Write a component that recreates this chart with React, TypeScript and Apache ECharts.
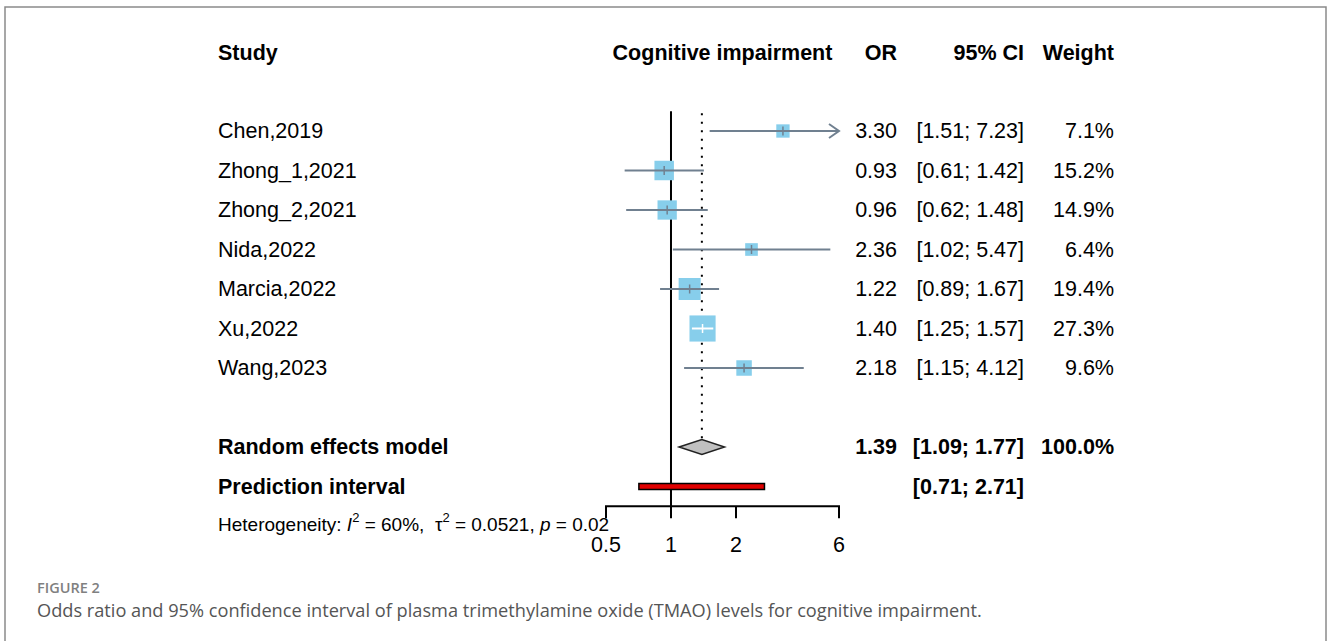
import React, { useEffect, useRef } from "react";
import * as echarts from "echarts";

// ---------- data ----------
const studies = ["Chen,2019", "Zhong_1,2021", "Zhong_2,2021", "Nida,2022", "Marcia,2022", "Xu,2022", "Wang,2023"];
const oddsRatios = [3.3, 0.93, 0.96, 2.36, 1.22, 1.4, 2.18];
const ciLower = [1.51, 0.61, 0.62, 1.02, 0.89, 1.25, 1.15];
const ciUpper = [7.23, 1.42, 1.48, 5.47, 1.67, 1.57, 4.12];
const weights = [7.1, 15.2, 14.9, 6.4, 19.4, 27.3, 9.6];

const summaryLabels = ["Random effects model", "Prediction interval"];
const pooledOR = 1.39;
const pooledLower = 1.09;
const pooledUpper = 1.77;
const pooledWeight = 100.0;
const predLower = 0.71;
const predUpper = 2.71;

const xTicks = [0.5, 1, 2, 6];
const xMin = 0.5;
const xMax = 6;

const headers = ["Study", "Cognitive impairment", "OR", "95% CI", "Weight"];
const heterogeneityI2 = 60;
const heterogeneityTau2 = 0.0521;
const heterogeneityP = 0.02;

const figureLabel = "FIGURE 2";
const caption =
  "Odds ratio and 95% confidence interval of plasma trimethylamine oxide (TMAO) levels for cognitive impairment.";

// ---------- layout ----------
const FONT = '"Liberation Sans", Arial, Helvetica, sans-serif';
const FS = 21.5;
const COL_STUDY = 218;
const COL_OR = 897;
const COL_CI = 1024;
const COL_W = 1114;
const ROW_RE = 8;
const ROW_PI = 9;
const ROW_AXIS = 9.5;
const LINE_COLOR = "#708090";
const SQUARE_COLOR = "#87CEEB";

const txt = (x: number, y: number, s: string, align: string, bold = false, size = FS) => ({
  type: "text",
  x,
  y,
  style: {
    text: s,
    fill: "#000",
    fontSize: size,
    fontFamily: FONT,
    fontWeight: bold ? "bold" : "normal",
    align,
    verticalAlign: "middle",
  },
});

const fmt = (v: number) => v.toFixed(2);

export default function App() {
  const ref = useRef<HTMLDivElement>(null);

  useEffect(() => {
    if (!ref.current) return;
    const chart = echarts.init(ref.current, null, { renderer: "svg" });

    const option: any = {
      animation: false,
      backgroundColor: "#fff",
      grid: { left: 606, top: 12.5, width: 233, height: 592.5, containLabel: false },
      xAxis: {
        type: "log",
        logBase: 2,
        min: xMin,
        max: xMax,
        show: false,
        axisLine: { show: false },
        axisTick: { show: false },
        axisLabel: { show: false },
        splitLine: { show: false },
      },
      yAxis: {
        type: "value",
        inverse: true,
        min: -3,
        max: 12,
        show: false,
        splitLine: { show: false },
      },
      series: [
        // reference lines
        {
          type: "custom",
          name: "reference",
          silent: true,
          data: [[1, 0]],
          renderItem: (_p: any, api: any) => {
            const x1 = api.coord([1, -0.5])[0];
            const yTop = api.coord([1, -0.5])[1];
            const yAxis = api.coord([1, ROW_AXIS])[1];
            const xp = api.coord([pooledOR, -0.45])[0];
            const yDotTop = api.coord([pooledOR, -0.45])[1];
            const yDiamond = api.coord([pooledOR, ROW_RE])[1] - 7.5;
            return {
              type: "group",
              children: [
                { type: "line", shape: { x1: xp, y1: yDotTop, x2: xp, y2: yDiamond }, style: { stroke: "#000", lineWidth: 2, lineDash: [2, 6.5] } },
                { type: "line", shape: { x1, y1: yTop, x2: x1, y2: yAxis }, style: { stroke: "#000", lineWidth: 2 } },
              ],
            };
          },
        },
        // axis
        {
          type: "custom",
          name: "axis",
          silent: true,
          data: xTicks.map((t) => [t, ROW_AXIS]),
          renderItem: (p: any, api: any) => {
            const t = xTicks[p.dataIndex];
            const [x, y] = api.coord([t, ROW_AXIS]);
            const children: any[] = [
              { type: "line", shape: { x1: x, y1: y, x2: x, y2: y + 12 }, style: { stroke: "#000", lineWidth: 2 } },
              txt(x, y + 39, String(t), "center"),
            ];
            if (p.dataIndex === 0) {
              const xe = api.coord([xMax, ROW_AXIS])[0];
              children.unshift({ type: "line", shape: { x1: x - 1, y1: y, x2: xe + 1, y2: y }, style: { stroke: "#000", lineWidth: 2 } });
            }
            return { type: "group", children };
          },
        },
        // studies
        {
          type: "custom",
          name: "studies",
          silent: true,
          data: studies.map((_, i) => [oddsRatios[i], i]),
          renderItem: (p: any, api: any) => {
            const i = p.dataIndex;
            const [xc, y] = api.coord([oddsRatios[i], i]);
            const xl = api.coord([ciLower[i], i])[0];
            const clipped = ciUpper[i] > xMax;
            const xh = api.coord([Math.min(ciUpper[i], xMax), i])[0];
            const side = 5 * Math.sqrt(weights[i]);
            const inside = xl >= xc - side / 2 && xh <= xc + side / 2;
            const lc = inside ? "#fff" : LINE_COLOR;
            const children: any[] = [
              { type: "rect", shape: { x: xc - side / 2, y: y - side / 2, width: side, height: side }, style: { fill: SQUARE_COLOR } },
              { type: "line", shape: { x1: xl, y1: y, x2: xh, y2: y }, style: { stroke: lc, lineWidth: 2 } },
              { type: "line", shape: { x1: xc, y1: y - 4.5, x2: xc, y2: y + 4.5 }, style: { stroke: lc, lineWidth: 1.5 } },
            ];
            if (clipped) {
              children.push({
                type: "polyline",
                shape: { points: [[xh - 10, y - 7], [xh, y], [xh - 10, y + 7]] },
                style: { stroke: LINE_COLOR, fill: "none", lineWidth: 2 },
              });
            }
            children.push(txt(COL_STUDY, y, studies[i], "left"));
            children.push(txt(COL_OR, y, fmt(oddsRatios[i]), "right"));
            children.push(txt(COL_CI, y, `[${fmt(ciLower[i])}; ${fmt(ciUpper[i])}]`, "right"));
            children.push(txt(COL_W, y, `${weights[i].toFixed(1)}%`, "right"));
            return { type: "group", children };
          },
        },
        // summary
        {
          type: "custom",
          name: "summary",
          silent: true,
          data: [[pooledOR, ROW_RE]],
          renderItem: (_p: any, api: any) => {
            const [xc, y] = api.coord([pooledOR, ROW_RE]);
            const xl = api.coord([pooledLower, ROW_RE])[0];
            const xh = api.coord([pooledUpper, ROW_RE])[0];
            const yp = api.coord([pooledOR, ROW_PI])[1];
            const pl = api.coord([predLower, ROW_PI])[0];
            const ph = api.coord([predUpper, ROW_PI])[0];
            return {
              type: "group",
              children: [
                {
                  type: "polygon",
                  shape: { points: [[xl, y], [xc, y - 7.5], [xh, y], [xc, y + 7.5]] },
                  style: { fill: "#C0C0C0", stroke: "#222", lineWidth: 1.5 },
                },
                {
                  type: "rect",
                  shape: { x: pl, y: yp - 3, width: ph - pl, height: 6 },
                  style: { fill: "#E00000", stroke: "#000", lineWidth: 1.5 },
                },
                txt(COL_STUDY, y, summaryLabels[0], "left", true),
                txt(COL_OR, y, fmt(pooledOR), "right", true),
                txt(COL_CI, y, `[${fmt(pooledLower)}; ${fmt(pooledUpper)}]`, "right", true),
                txt(COL_W, y, `${pooledWeight.toFixed(1)}%`, "right", true),
                txt(COL_STUDY, yp, summaryLabels[1], "left", true),
                txt(COL_CI, yp, `[${fmt(predLower)}; ${fmt(predUpper)}]`, "right", true),
              ],
            };
          },
        },
      ],
      graphic: [
        {
          type: "rect",
          shape: { x: 5, y: 7, width: 1321, height: 700 },
          style: { fill: "none", stroke: "#8a8a8a", lineWidth: 1.5 },
          silent: true,
        },
        txt(COL_STUDY, 53, headers[0], "left", true),
        txt(722.5, 53, headers[1], "center", true),
        txt(COL_OR, 53, headers[2], "right", true),
        txt(COL_CI, 53, headers[3], "right", true),
        txt(COL_W, 53, headers[4], "right", true),
        {
          type: "text",
          x: COL_STUDY,
          y: 524,
          style: {
            text: `Heterogeneity: {i|I}{s|2} = ${heterogeneityI2}%,  τ{s|2} = ${heterogeneityTau2}, {i|p} = ${heterogeneityP}`,
            fill: "#000",
            fontSize: 19,
            fontFamily: FONT,
            lineHeight: 26,
            align: "left",
            verticalAlign: "middle",
            rich: {
              i: { fontSize: 19, fontFamily: FONT, fontStyle: "italic", fill: "#000", lineHeight: 26 },
              s: { fontSize: 13, fontFamily: FONT, fill: "#000", lineHeight: 15, verticalAlign: "top" },
            },
          },
        },
        {
          type: "text",
          x: 37,
          y: 587,
          style: {
            text: figureLabel,
            fill: "#808080",
            fontSize: 14.5,
            fontFamily: '"Open Sans", "Noto Sans", sans-serif',
            fontWeight: 600,
            align: "left",
            verticalAlign: "middle",
          },
        },
        {
          type: "text",
          x: 37,
          y: 610,
          style: {
            text: caption,
            fill: "#555",
            fontSize: 18.2,
            fontFamily: '"Open Sans", "Noto Sans", sans-serif',
            align: "left",
            verticalAlign: "middle",
          },
        },
      ],
    };

    chart.setOption(option);
    return () => chart.dispose();
  }, []);

  return (
    <div
      ref={ref}
      style={{ position: "absolute", left: 0, top: 0, width: 1328, height: 641, background: "#fff" }}
    />
  );
}
